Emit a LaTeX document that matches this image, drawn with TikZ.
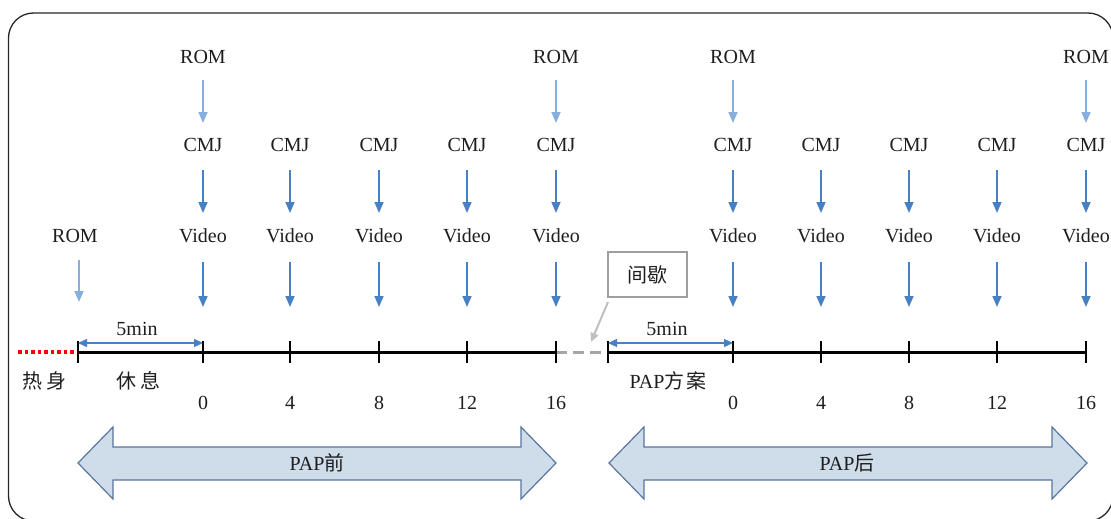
\documentclass[tikz,border=0pt]{standalone}
\usepackage{fontspec}
\setmainfont{Liberation Serif}
\newfontfamily\cjk{Noto Sans CJK SC}
\usetikzlibrary{arrows.meta}
\definecolor{lblue}{RGB}{135,175,222}
\definecolor{dblue}{RGB}{72,128,196}
\definecolor{afill}{RGB}{206,221,233}
\definecolor{aborder}{RGB}{88,118,158}
\definecolor{txt}{RGB}{30,30,30}
\begin{document}
\begin{tikzpicture}[x=1pt,y=-1pt,
  lbl/.style={font=\fontsize{20}{22}\selectfont, text=txt, inner sep=0pt},
  romarr/.style={draw=lblue, line width=1.6pt, -{Triangle[width=9pt,length=11pt]}},
  cmjarr/.style={draw=dblue, line width=1.6pt, -{Triangle[width=9pt,length=11pt]}},
  tickmark/.style={line width=2.4pt, black},
  bigarrow/.style={draw=aborder, fill=afill, line width=1.2pt, line join=miter}
]
\useasboundingbox (0,0) rectangle (1111,519);
% frame
\draw[line width=1.3pt, rounded corners=25pt, black!85] (8.5,13) rectangle (1113,521);

% timeline coordinates
\foreach \n/\x in {s1/78, a0/203, a4/290, a8/379, a12/467, a16/556, s2/608, b0/733, b4/821, b8/909, b12/997, b16/1086}{
  \coordinate (\n) at (\x,352);
}
\coordinate (w0) at (18,352);
\draw[red, line width=3.2pt, dash pattern=on 3.5pt off 3pt] (w0) -- (s1);
\draw[line width=3pt] (s1) -- (a16);
\draw[black!35, line width=3pt, dash pattern=on 11pt off 6pt] (a16) -- (s2);
\draw[line width=3pt] (s2) -- (b16);
\foreach \n in {s1,a0,a4,a8,a12,a16,s2,b0,b4,b8,b12,b16}{
  \draw[tickmark] ([yshift=-11pt]\n) -- ([yshift=11pt]\n);
}

% numbers
\foreach \n/\t in {a0/0,a4/4,a8/8,a12/12,a16/16,b0/0,b4/4,b8/8,b12/12,b16/16}{
  \node[lbl] (num\n) at ([yshift=-51pt]\n) {\t};
}
\node[lbl] (warm) at (45,381) {\cjk 热\hspace{4pt}身};
\node[lbl] (rest) at (138,381) {\cjk 休\hspace{4pt}息};
\node[lbl] (papplan) at (668,381) {PAP{\cjk 方\hspace{2pt}案}};

% 5min arrows
\coordinate (m1a) at (78,343); \coordinate (m1b) at (203,343);
\coordinate (m2a) at (608,343); \coordinate (m2b) at (733,343);
\draw[dblue, line width=1.3pt, {Triangle[width=8pt,length=9pt]}-{Triangle[width=8pt,length=9pt]}] (m1a) -- (m1b);
\draw[dblue, line width=1.3pt, {Triangle[width=8pt,length=9pt]}-{Triangle[width=8pt,length=9pt]}] (m2a) -- (m2b);
\node[lbl] (min1) at (137,329) {5min};
\node[lbl] (min2) at (667,329) {5min};

% ROM top
\foreach \n/\x in {r1/203, r2/556, r3/733, r4/1086}{
  \node[lbl] (\n) at (\x,57) {ROM};
}
% CMJ and Video
\foreach \n/\x in {a0/203, a4/290, a8/379, a12/467, a16/556, b0/733, b4/821, b8/909, b12/997, b16/1086}{
  \node[lbl] (c\n) at (\x,145) {CMJ};
  \node[lbl] (v\n) at (\x,236) {Video};
  \draw[cmjarr, shorten <=25pt, shorten >=23pt] (c\n.center) -- (v\n.center);
  \draw[cmjarr, shorten <=26pt, shorten >=45pt] (v\n.center) -- (\n);
}
\draw[romarr, shorten <=23pt, shorten >=22pt] (r1.center) -- (ca0.center);
\draw[romarr, shorten <=23pt, shorten >=22pt] (r2.center) -- (ca16.center);
\draw[romarr, shorten <=23pt, shorten >=22pt] (r3.center) -- (cb0.center);
\draw[romarr, shorten <=23pt, shorten >=22pt] (r4.center) -- (cb16.center);

% left ROM
\node[lbl] (r0) at (75,236) {ROM};
\coordinate (r0end) at (79,352);
\draw[romarr, shorten <=24pt, shorten >=50pt] (79,236) -- (r0end);

% pause box
\node[draw=black!38, line width=2.2pt, minimum width=79pt, minimum height=45pt, inner sep=0pt,
  font=\fontsize{20}{22}\selectfont, text=txt] (pause) at (647.5,274.5) {\cjk 间歇};
\coordinate (pauseend) at (591,342);
\draw[black!25, line width=2pt, -{Triangle[width=8pt,length=9pt]}] (608,302) -- (pauseend);

% big arrows
\draw[bigarrow] (78,463) -- (113,427) -- (113,447) -- (521,447) -- (521,427) -- (556,463)
  -- (521,499) -- (521,480) -- (113,480) -- (113,499) -- cycle;
\node[lbl] (pre) at (317,463) {PAP{\cjk 前}};
\draw[bigarrow] (609,463) -- (644,427) -- (644,447) -- (1052,447) -- (1052,427) -- (1087,463)
  -- (1052,499) -- (1052,480) -- (644,480) -- (644,499) -- cycle;
\node[lbl] (post) at (847,463) {PAP{\cjk 后}};
\end{tikzpicture}
\end{document}
